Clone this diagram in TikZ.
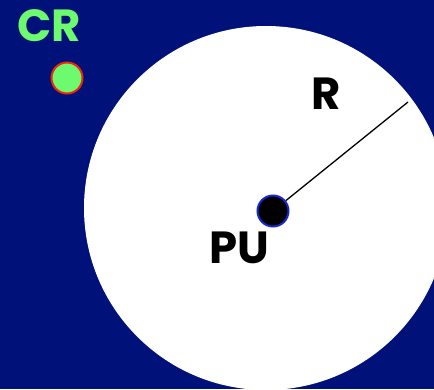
\documentclass[tikz,border=0pt]{standalone}
\usepackage{fontspec}
\setmainfont{Poppins}
\usetikzlibrary{positioning}
\definecolor{navyback}{RGB}{0,18,122}
\definecolor{crgreen}{RGB}{110,250,110}
\definecolor{rimred}{RGB}{240,40,10}
\definecolor{dotblue}{RGB}{20,40,210}

\begin{document}
\begin{tikzpicture}[x=1pt,y=-1pt,
    lbl/.style={font=\fontsize{45}{45}\selectfont\bfseries, inner sep=0pt},
    dot/.style={circle, inner sep=0pt, minimum size=31pt, line width=2pt}]
    \useasboundingbox (0,0) rectangle (434,389);
    \fill[navyback] (0,0) rectangle (434,389);
    \begin{scope}
        \clip (0,0) rectangle (434,389);
        \fill[white] (266,208) circle (182pt);
    \end{scope}

    \node[lbl, text=crgreen] (crlabel) at (49,26) {CR};
    \node[dot, fill=crgreen, draw=rimred] (crdot) at (67,78) {};

    \node[dot, fill=black, draw=dotblue] (pudot) at (273,211) {};
    \coordinate (rim) at (408,102);
    \draw[line width=1.3pt] (pudot) -- (rim);

    \node[lbl] (rlabel) at (326,94) {R};
    \node[lbl] (pulabel) at (239,248) {PU};
\end{tikzpicture}
\end{document}
